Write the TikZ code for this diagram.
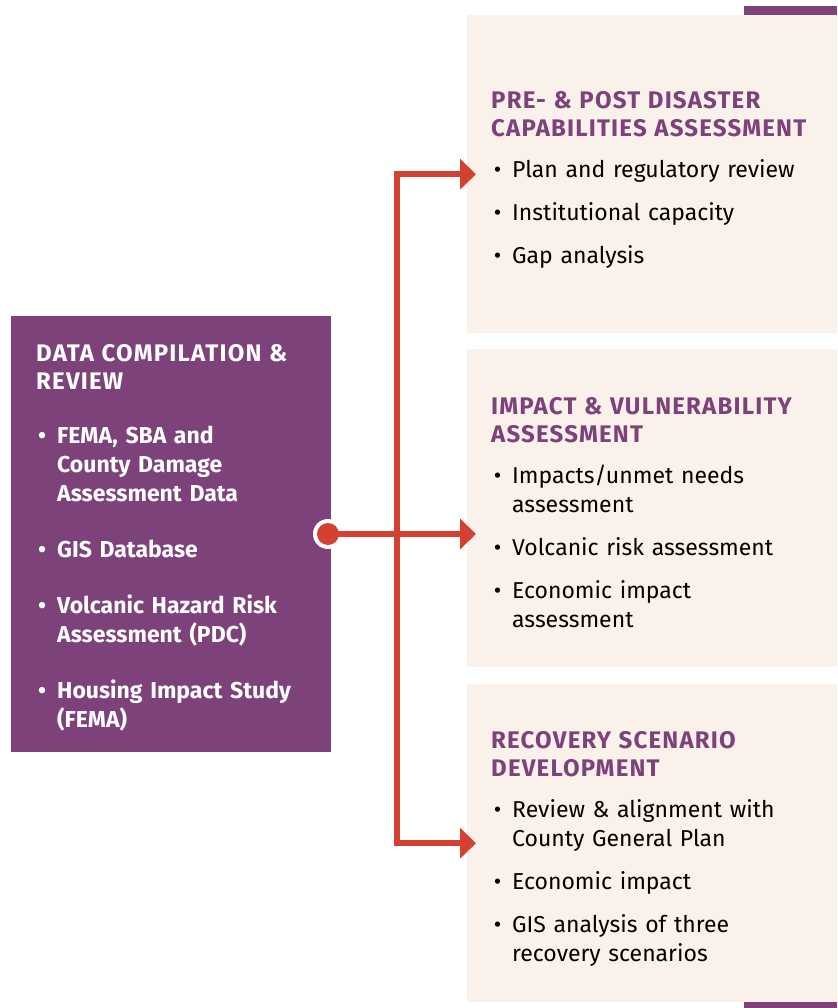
\documentclass[tikz,border=0pt]{standalone}
\usepackage{fontspec}
\setmainfont{Fira Sans}
\usetikzlibrary{positioning, arrows.meta, calc}

\definecolor{plum}{RGB}{125,66,122}
\definecolor{sand}{RGB}{250,241,235}
\definecolor{flowred}{RGB}{210,65,49}

% box heading, two lines
\newcommand{\headline}[1]{{\fontsize{24}{28}\selectfont\bfseries
  \addfontfeature{LetterSpace=5}#1\par}}
% bulleted line, optional gap above it
\newcommand{\entry}[2][14pt]{\vspace{#1}\hangindent=21pt\hangafter=0\noindent
  \llap{\textbullet\hspace{11pt}}#2\par}

\begin{document}
\begin{tikzpicture}[
  x=1pt, y=-1pt,
  >=Triangle,
  panel/.style={fill=sand, inner sep=0, anchor=north west},
  bodytext/.style={anchor=base west, inner sep=0, text width=340pt,
    font=\fontsize{23}{29}\selectfont},
  flow/.style={draw=flowred, line width=6pt,
    arrows={-Triangle[length=16pt, width=30pt]}},
]
\useasboundingbox (0,0) rectangle (837,1008);

% --- Boxes ---
\node[panel, fill=plum, minimum width=320, minimum height=436] (data) at (11,316) {};
\node[panel, minimum width=370, minimum height=318] (pre) at (467,15) {};
\node[panel, minimum width=370, minimum height=318] (impact) at (467,349) {};
\node[panel, minimum width=370, minimum height=318] (recov) at (467,684) {};

% accent bars
\fill[plum] (744,6) rectangle (837,15);
\fill[plum] (744,1002) rectangle (837,1008);

% --- Texts ---
\node[bodytext, text=white, font=\fontsize{23}{29}\selectfont\bfseries]
  (datatext) at (36,361) {
  \headline{DATA COMPILATION \&\newline REVIEW}
  \entry[25pt]{FEMA, SBA and\newline County Damage\newline Assessment Data}
  \entry[27pt]{GIS Database}
  \entry[27pt]{Volcanic Hazard Risk\newline Assessment (PDC)}
  \entry[27pt]{Housing Impact Study\newline (FEMA)}};

\node[bodytext] (pretext) at (491,109) {{\color{plum}
  \headline{PRE- \& POST DISASTER\newline CAPABILITIES ASSESSMENT}}
  \entry[12pt]{Plan and regulatory review}
  \entry{Institutional capacity}
  \entry{Gap analysis}};

\node[bodytext] (impacttext) at (491,414) {{\color{plum}
  \headline{IMPACT \& VULNERABILITY\newline ASSESSMENT}}
  \entry[12pt]{Impacts/unmet needs\newline assessment}
  \entry{Volcanic risk assessment}
  \entry{Economic impact\newline assessment}};

\node[bodytext] (recovtext) at (491,748) {{\color{plum}
  \headline{RECOVERY SCENARIO\newline DEVELOPMENT}}
  \entry[12pt]{Review \& alignment with\newline County General Plan}
  \entry{Economic impact}
  \entry{GIS analysis of three\newline recovery scenarios}};

% --- Connectors ---
\coordinate (hub) at (397,534);
\coordinate (in1) at ([xshift=9pt]pre.west);
\coordinate (in2) at (impact.west |- hub);
\coordinate (in3) at ([xshift=9pt]recov.west);

\draw[flow, {Triangle[length=16pt, width=30pt]}-{Triangle[length=16pt, width=30pt]}]
  (in1) -| (hub) |- (in3);
\node[circle, fill=white, minimum size=30pt, inner sep=0] (ring) at (328,534) {};
\draw[flow] (ring.center) -- ([xshift=9pt]in2);
\node[circle, fill=flowred, minimum size=22pt, inner sep=0] (dot) at (ring) {};

\end{tikzpicture}
\end{document}
